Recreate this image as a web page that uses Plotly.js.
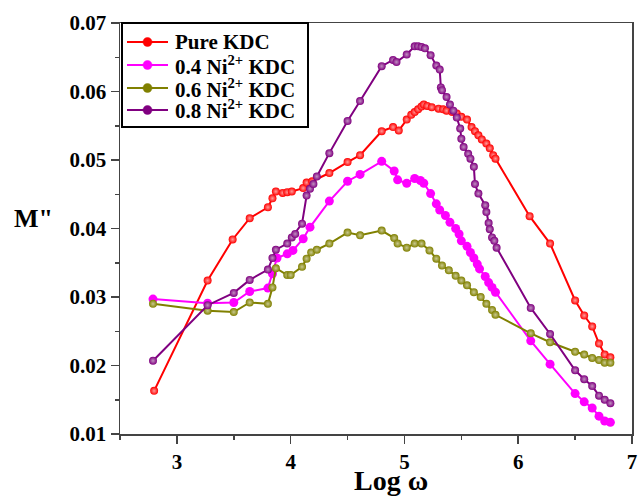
<!DOCTYPE html>
<html>
<head>
<meta charset="utf-8">
<script src="https://cdn.plot.ly/plotly-3.0.1.min.js"></script>
<style>html,body{margin:0;padding:0;background:#fff;}#chart{width:642px;height:496px;}</style>
</head>
<body>
<div id="chart"></div>
<script>
// Pure KDC
const pureX = [2.80,3.27,3.49,3.64,3.80,3.84,3.87,3.93,3.97,4.01,4.11,4.14,4.19,4.34,4.50,4.61,4.80,4.90,4.95,5.02,5.06,5.09,5.12,5.15,5.17,5.20,5.24,5.30,5.34,5.37,5.42,5.46,5.50,5.55,5.59,5.62,5.65,5.68,5.72,5.75,5.78,5.80,6.10,6.28,6.50,6.58,6.65,6.71,6.76,6.81];
const pureY = [0.0163,0.0324,0.0384,0.0415,0.0431,0.0444,0.0454,0.0452,0.0453,0.0454,0.0459,0.0467,0.0469,0.0481,0.0497,0.0507,0.0542,0.0548,0.0543,0.0559,0.0566,0.0570,0.0574,0.0578,0.0581,0.0579,0.0577,0.0575,0.0574,0.0572,0.0570,0.0568,0.0563,0.0559,0.0548,0.0542,0.0536,0.0530,0.0524,0.0517,0.0507,0.0502,0.0418,0.0378,0.0295,0.0273,0.0257,0.0232,0.0216,0.0212];

// 0.4 Ni2+ KDC
const ni04X = [2.79,3.27,3.50,3.64,3.80,3.84,3.88,3.97,4.02,4.11,4.17,4.34,4.50,4.61,4.80,4.91,4.94,5.02,5.09,5.14,5.17,5.23,5.28,5.31,5.36,5.40,5.45,5.48,5.50,5.55,5.58,5.61,5.64,5.66,5.71,5.74,5.77,5.80,6.11,6.28,6.50,6.58,6.65,6.71,6.76,6.81];
const ni04Y = [0.0297,0.0291,0.0292,0.0308,0.0313,0.0334,0.0357,0.0363,0.0368,0.0385,0.0402,0.0440,0.0469,0.0479,0.0498,0.0484,0.0471,0.0466,0.0473,0.0470,0.0466,0.0451,0.0436,0.0427,0.0419,0.0409,0.0400,0.0392,0.0382,0.0374,0.0365,0.0357,0.0348,0.0341,0.0330,0.0321,0.0314,0.0307,0.0236,0.0202,0.0159,0.0147,0.0138,0.0126,0.0119,0.0117];

// 0.6 Ni2+ KDC
const ni06X = [2.79,3.27,3.50,3.64,3.80,3.84,3.87,3.97,4.00,4.10,4.14,4.18,4.23,4.34,4.50,4.61,4.80,4.91,4.94,5.02,5.09,5.15,5.22,5.28,5.33,5.39,5.45,5.50,5.55,5.61,5.67,5.72,5.77,5.80,6.11,6.28,6.50,6.58,6.65,6.71,6.76,6.81];
const ni06Y = [0.0290,0.0280,0.0278,0.0292,0.0290,0.0314,0.0342,0.0332,0.0332,0.0344,0.0356,0.0365,0.0369,0.0378,0.0394,0.0390,0.0397,0.0386,0.0378,0.0372,0.0378,0.0378,0.0368,0.0356,0.0346,0.0339,0.0331,0.0324,0.0317,0.0307,0.0300,0.0290,0.0281,0.0274,0.0247,0.0234,0.0220,0.0216,0.0211,0.0208,0.0204,0.0204];

// 0.8 Ni2+ KDC
const ni08X = [2.79,3.27,3.50,3.64,3.80,3.84,3.87,3.97,4.01,4.04,4.10,4.14,4.17,4.20,4.23,4.34,4.50,4.61,4.80,4.90,4.93,5.02,5.09,5.12,5.15,5.18,5.23,5.28,5.31,5.32,5.33,5.37,5.40,5.43,5.46,5.49,5.50,5.52,5.56,5.58,5.61,5.62,5.65,5.71,5.72,5.74,5.75,5.77,5.79,5.81,6.11,6.28,6.50,6.58,6.65,6.71,6.76,6.81];
const ni08Y = [0.0207,0.0288,0.0306,0.0325,0.0340,0.0357,0.0369,0.0378,0.0387,0.0392,0.0407,0.0448,0.0458,0.0465,0.0476,0.0510,0.0557,0.0586,0.0637,0.0646,0.0643,0.0654,0.0666,0.0666,0.0665,0.0663,0.0653,0.0638,0.0632,0.0606,0.0602,0.0592,0.0581,0.0572,0.0562,0.0546,0.0531,0.0519,0.0509,0.0502,0.0490,0.0465,0.0451,0.0434,0.0424,0.0408,0.0399,0.0387,0.0382,0.0372,0.0284,0.0246,0.0193,0.0180,0.0170,0.0156,0.0150,0.0145];

const names = ['Pure KDC','0.4 Ni<sup>2+</sup> KDC','0.6 Ni<sup>2+</sup> KDC','0.8 Ni<sup>2+</sup> KDC'];
const colors = ['#ff0000','#ff00ff','#808000','#800080'];
const hl = ['#ff9a9a','#ff00ff','#c8c890','#c090c0'];

const xs = [pureX, ni04X, ni06X, ni08X];
const ys = [pureY, ni04Y, ni06Y, ni08Y];

const traces = xs.map((x, i) => ({
  x: x, y: ys[i], name: names[i], type: 'scatter', mode: 'lines+markers',
  showlegend: false,
  line: {color: colors[i], width: 2},
  marker: {color: colors[i], size: i === 1 ? 9 : 8,
           gradient: {type: 'radial', color: hl[i]}}
}));

const serif = 'Liberation Serif, Times New Roman, serif';

// plot area in pixels (for legend placement helpers)
const PL = 120, PW = 512, PT = 23, PH = 411;
const px = v => (v - PL) / PW;
const py = v => (PT + PH - v) / PH;

const shapes = [{
  type: 'rect', xref: 'paper', yref: 'paper',
  x0: px(122), x1: px(308), y0: py(127), y1: py(23),
  line: {color: '#000', width: 2}, fillcolor: '#ffffff', layer: 'above'
}];
const annotations = [];
const rowY = [42, 65, 88, 110];
names.forEach((n, i) => {
  shapes.push({type: 'line', xref: 'paper', yref: 'paper',
    x0: px(127), x1: px(168), y0: py(rowY[i]), y1: py(rowY[i]),
    line: {color: colors[i], width: 2}, layer: 'above'});
  shapes.push({type: 'circle', xref: 'paper', yref: 'paper',
    xsizemode: 'pixel', ysizemode: 'pixel', xanchor: px(147.5), yanchor: py(rowY[i]),
    x0: -4.5, x1: 4.5, y0: -4.5, y1: 4.5,
    fillcolor: colors[i], line: {color: colors[i], width: 0.5}, layer: 'above'});
  annotations.push({text: '<b>' + n + '</b>', xref: 'paper', yref: 'paper',
    x: px(173), y: py(rowY[i]), xanchor: 'left', yanchor: 'middle', showarrow: false,
    font: {family: serif, size: 21, color: '#000'}});
});
annotations.push({
  text: '<b>M"</b>', xref: 'paper', yref: 'paper', x: px(33), y: py(218),
  xanchor: 'center', yanchor: 'middle', showarrow: false,
  font: {family: serif, size: 26, color: '#000'}
});
annotations.push({
  text: '<b>Log ω</b>', xref: 'paper', yref: 'paper', x: px(391), y: py(480),
  xanchor: 'center', yanchor: 'middle', showarrow: false,
  font: {family: serif, size: 28, color: '#000'}
});

const layout = {
  width: 642, height: 496,
  margin: {l: PL, r: 642 - PL - PW, t: PT, b: 496 - PT - PH},
  paper_bgcolor: '#ffffff', plot_bgcolor: '#ffffff',
  showlegend: false,
  xaxis: {
    range: [2.5, 7], tickvals: [3,4,5,6,7], ticktext: ['3','4','5','6','7'],
    ticks: 'outside', ticklen: 8, tickwidth: 1.5, tickcolor: '#444',
    minor: {dtick: 0.5, ticks: 'outside', ticklen: 4, tickwidth: 1.5, tickcolor: '#444', showgrid: false},
    showline: true, linecolor: '#444', linewidth: 1.5, mirror: true,
    showgrid: false, zeroline: false,
    tickfont: {family: serif, size: 21, color: '#000', weight: 'bold'}
  },
  yaxis: {
    range: [0.01, 0.07], dtick: 0.01, tick0: 0.01, tickformat: '.2f',
    ticks: 'outside', ticklen: 8, tickwidth: 1.5, tickcolor: '#444',
    minor: {dtick: 0.005, ticks: 'outside', ticklen: 4, tickwidth: 1.5, tickcolor: '#444', showgrid: false},
    showline: true, linecolor: '#444', linewidth: 1.5, mirror: true,
    showgrid: false, zeroline: false,
    tickfont: {family: serif, size: 21, color: '#000', weight: 'bold'}
  },
  shapes: shapes,
  annotations: annotations
};

Plotly.newPlot('chart', traces, layout, {displayModeBar: false, staticPlot: true});
</script>
</body>
</html>
